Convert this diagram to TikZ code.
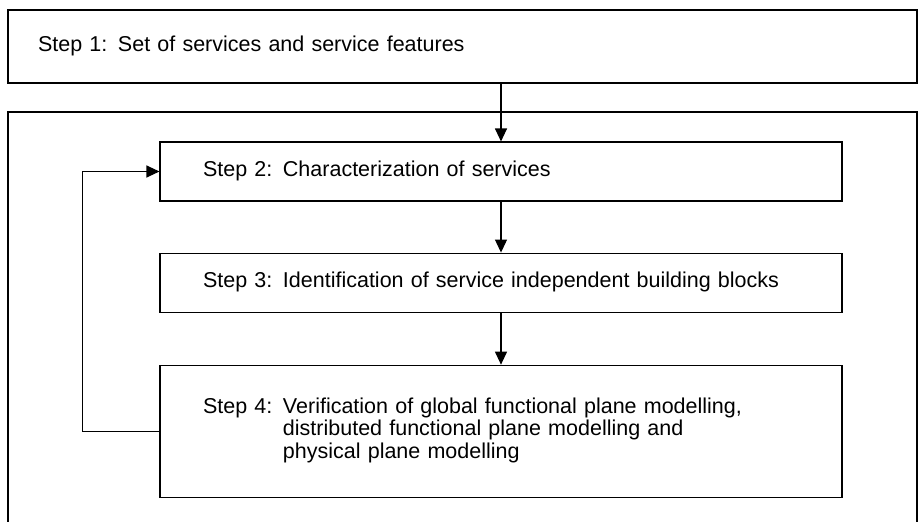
\documentclass[tikz,border=0pt]{standalone}
\usepackage{fontspec}
\setmainfont{Liberation Sans}
\usetikzlibrary{arrows.meta,positioning}
\newcommand{\steptext}[2]{\makebox[3.72em][l]{Step #1:}\begin{tabular}[t]{@{}l@{}}#2\end{tabular}}

\begin{document}
\begin{tikzpicture}[x=1pt, y=-1pt,
                    node distance=51pt,
                    box/.style={rectangle, draw, line width=1.1pt, align=left, inner sep=0pt, font=\fontsize{21.5}{22.5}\selectfont},
                    inbox/.style={box, minimum width=682pt, text width=596pt, minimum height=59pt},
                    arrow/.style={-{Triangle[width=12pt,length=13pt]}, line width=1.1pt}
                ]
                    \useasboundingbox (0,0) rectangle (922,522);
                    % outer frame, open at the bottom
                    \draw[line width=1.1pt] (8,522) |- (917,112) -- (917,522);

                    \node[box, minimum width=909pt, text width=849pt, minimum height=73pt] (s1) at (462.5,46.5) {\steptext{1}{Set of services and service features}};
                    \node[inbox] (s2) at (501,171.5) {\steptext{2}{Characterization of services}};
                    \node[inbox, below=of s2] (s3) {\steptext{3}{Identification of service independent building blocks}};
                    \node[inbox, minimum height=132pt, below=52pt of s3] (s4) {\steptext{4}{Verification of global functional plane modelling,\\distributed functional plane modelling and\\physical plane modelling}};
                    \coordinate[left=77pt of s4.west] (back);

                    \draw[arrow] (s1.south -| s2.north) -- (s2.north);
                    \draw[arrow] (s2) -- (s3);
                    \draw[arrow] (s3) -- (s4);
                    \draw[arrow] (s4.west) -- (back) |- (s2.west);
                \end{tikzpicture}
\end{document}
